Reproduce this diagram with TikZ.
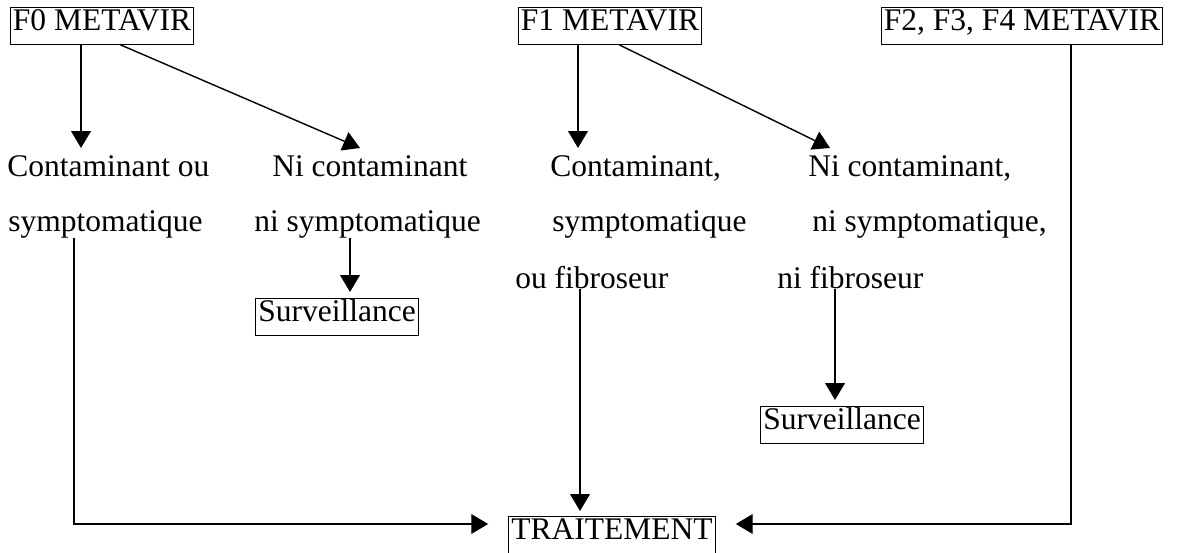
\documentclass[tikz,border=0pt]{standalone}
\usepackage{fontspec}
\setmainfont{Liberation Serif}
\usetikzlibrary{arrows.meta,calc}
\tikzset{every node/.style={font=\fontsize{22.4}{26}\selectfont}}

\begin{document}
\begin{tikzpicture}[x=0.025cm,y=-0.025cm,
    box/.style={draw,line width=0.6pt,inner xsep=2pt,inner ysep=0pt,text height=0.8em,text depth=0.14em,minimum height=0.92cm},
    txt/.style={inner sep=0pt,anchor=base west},
    arr/.style={line width=1pt,-{Triangle[width=14pt,length=12pt]}}]
    \useasboundingbox (0,0) rectangle (1186,553);
    \node[box] (f0) at (102,26) {F0 METAVIR};
    \node[box] (f1) at (610,26) {F1 METAVIR};
    \node[box] (f2) at (1022,26) {F2, F3, F4 METAVIR};
    \node[txt] (c0) at (7,176) {Contaminant ou};
    \node[txt] (s0) at (8,231) {symptomatique};
    \node[txt] (n0) at (272,176) {Ni contaminant};
    \node[txt] (ns0) at (254,231) {ni symptomatique};
    \node[box] (sv0) at (337,317) {Surveillance};
    \node[txt] (c1) at (550,176) {Contaminant,};
    \node[txt] (s1) at (552,231) {symptomatique};
    \node[txt] (o1) at (515,288) {ou fibroseur};
    \node[txt] (n1) at (808,176) {Ni contaminant,};
    \node[txt] (ns1) at (812,231) {ni symptomatique,};
    \node[txt] (nf1) at (777,288) {ni fibroseur};
    \node[box] (sv1) at (842,425) {Surveillance};
    \node[box] (tr) at (612,535) {TRAITEMENT};
    \coordinate (t0) at (81,148);
    \coordinate (t1) at (360,148);
    \coordinate (t2) at (578,148);
    \coordinate (t3) at (830,148);
    \coordinate (t4) at (350,292);
    \coordinate (t5) at (580,511);
    \coordinate (t6) at (835,400);
    \coordinate (b0) at (74,524);
    \coordinate (b1) at (1071,524);
    \draw[arr] (f0.south -| t0) -- (t0);
    \draw[arr] ($(f0.south west)!0.6!(f0.south east)$) -- (t1);
    \draw[arr] (f1.south -| t2) -- (t2);
    \draw[arr] ($(f1.south west)!0.55!(f1.south east)$) -- (t3);
    \draw[arr] (ns0.south -| t4) -- (t4);
    \draw[arr] (o1.south -| t5) -- (t5);
    \draw[arr] (nf1.south -| t6) -- (t6);
    \draw[arr] (s0.south -| b0) -- (b0) -- ([xshift=-0.5cm]tr.west |- b0);
    \draw[arr] (f2.south -| b1) -- (b1) -- ([xshift=0.5cm]tr.east |- b1);
\end{tikzpicture}
\end{document}
